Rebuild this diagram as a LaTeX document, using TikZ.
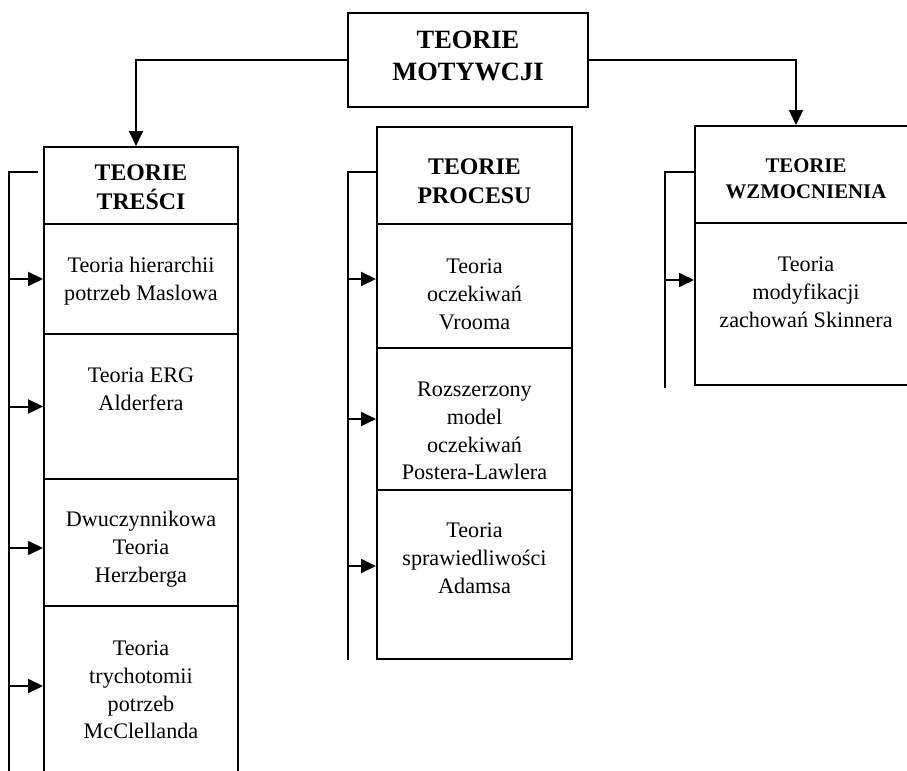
\documentclass[tikz,border=0pt]{standalone}
\usepackage{fontspec}
\setmainfont{Liberation Serif}
\usetikzlibrary{arrows.meta}

\tikzset{
  cell/.style={draw, line width=1pt, inner sep=0pt},
  txt/.style={align=center, inner sep=0pt, font=\fontsize{11.1}{13.9}\selectfont},
  head/.style={align=center, inner sep=0pt, font=\fontsize{11.9}{14.5}\selectfont\bfseries},
  link/.style={line width=1pt},
  arr/.style={line width=1pt, -{Triangle[length=7.5pt,width=7pt]}}
}

\begin{document}
\begin{tikzpicture}[x=0.5pt, y=-0.5pt]
  \clip (0,0) rectangle (907,771);

  \node[cell, minimum width=120pt, minimum height=47pt] (mot) at (468,60) {};
  \node[head, font=\fontsize{13.2}{16}\selectfont\bfseries] (motT) at (468,56) {TEORIE\\MOTYWCJI};

  % left column
  \node[cell, minimum width=97pt, minimum height=38.5pt] (tresc) at (141,185.5) {};
  \node[head] (trescT) at (141,187.5) {TEORIE\\TREŚCI};
  \node[cell, minimum width=97pt, minimum height=55pt] (t1) at (141,279) {};
  \node[txt] (t1T) at (141,281) {Teoria hierarchii\\potrzeb Maslowa};
  \node[cell, minimum width=97pt, minimum height=72.5pt] (t2) at (141,406.5) {};
  \node[txt] (t2T) at (141,389) {Teoria ERG\\Alderfera};
  \node[cell, minimum width=97pt, minimum height=63.5pt] (t3) at (141,542.5) {};
  \node[txt] (t3T) at (141,549) {Dwuczynnikowa\\Teoria\\Herzberga};
  \node[cell, minimum width=97pt, minimum height=84pt] (t4) at (141,690) {};
  \node[txt] (t4T) at (141,690) {Teoria\\trychotomii\\potrzeb\\McClellanda};

  \coordinate (lt) at (9,172);
  \coordinate (lb) at (9,780);
  \draw[link] ([xshift=-2.5pt]tresc.west |- lt) -- (lt) -- (lb);
  \draw[arr] (t1.west -| lt) -- (t1.west);
  \draw[arr] (t2.west -| lt) -- (t2.west);
  \draw[arr] ([yshift=-2.75pt]t3.west -| lt) -- ([yshift=-2.75pt]t3.west);
  \draw[arr] ([yshift=2pt]t4.west -| lt) -- ([yshift=2pt]t4.west);

  % middle column
  \node[cell, minimum width=97.5pt, minimum height=48.5pt] (proc) at (474.5,175.5) {};
  \node[head] (procT) at (474.5,181) {TEORIE\\PROCESU};
  \node[cell, minimum width=97.5pt, minimum height=62pt] (m1) at (474.5,286) {};
  \node[txt] (m1T) at (474.5,294.5) {Teoria\\oczekiwań\\Vrooma};
  \node[cell, minimum width=97.5pt, minimum height=71pt] (m2) at (474.5,419) {};
  \node[txt] (m2T) at (474.5,431) {Rozszerzony\\model\\oczekiwań\\Postera-Lawlera};
  \node[cell, minimum width=97.5pt, minimum height=84.5pt] (m3) at (474.5,574.5) {};
  \node[txt] (m3T) at (474.5,558) {Teoria\\sprawiedliwości\\Adamsa};

  \coordinate (mt) at (348,172);
  \coordinate (mb) at (348,660);
  \draw[link] (proc.west |- mt) -- (mt) -- (mb);
  \draw[arr] ([yshift=3.5pt]m1.west -| mt) -- ([yshift=3.5pt]m1.west);
  \draw[arr] (m2.west -| mt) -- (m2.west);
  \draw[arr] ([yshift=4.25pt]m3.west -| mt) -- ([yshift=4.25pt]m3.west);

  % right column
  \node[cell, minimum width=111pt, minimum height=48.5pt] (wzm) at (806,174.5) {};
  \node[head, font=\fontsize{10.4}{13}\selectfont\bfseries] (wzmT) at (806,179) {TEORIE\\WZMOCNIENIA};
  \node[cell, minimum width=111pt, minimum height=81pt] (r1) at (806,304) {};
  \node[txt] (r1T) at (806,292) {Teoria\\modyfikacji\\zachowań Skinnera};

  \coordinate (rt) at (665,172);
  \coordinate (rb) at (665,388);
  \draw[link] (wzm.west |- rt) -- (rt) -- (rb);
  \draw[arr] ([yshift=12pt]r1.west -| rt) -- ([yshift=12pt]r1.west);

  \draw[arr] (mot.west) -| ([xshift=-2.5pt]tresc.north);
  \draw[arr] (mot.east) -| ([xshift=-5pt]wzm.north);
\end{tikzpicture}
\end{document}
